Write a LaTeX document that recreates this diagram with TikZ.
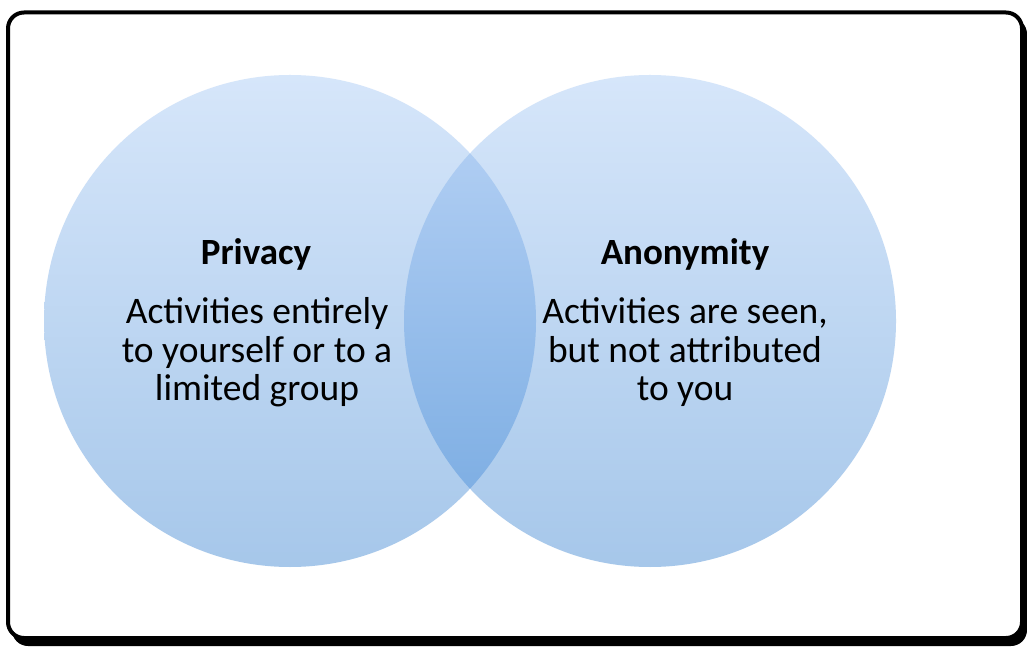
\documentclass[tikz,border=0pt]{standalone}
\usepackage{fontspec}
\setmainfont{Carlito}
\definecolor{ctop}{RGB}{214,230,250}
\definecolor{cbot}{RGB}{166,199,234}
\definecolor{ltop}{RGB}{186,212,246}
\definecolor{lbot}{RGB}{116,168,224}
\tikzset{
  frame/.style={line width=4pt, rounded corners=16pt},
  venn/.style={top color=ctop, bottom color=cbot},
  lens/.style={top color=ltop, bottom color=lbot},
  title/.style={font=\fontsize{37}{37.5}\selectfont\bfseries, anchor=base, inner sep=0pt},
  body/.style={font=\fontsize{37.5}{38.5}\selectfont, align=center, anchor=base, inner sep=0pt}
}
\begin{document}
\begin{tikzpicture}[x=1pt,y=1pt]
\useasboundingbox (0,0) rectangle (1027,648);
% shadow and frame
\fill[black, rounded corners=16pt] (12,2) rectangle (1027,630);
\draw[frame, fill=white] (8,10) rectangle (1022,635.5);
% circles
\shade[venn] (290,327) circle[radius=246pt];
\shade[venn] (650,327) circle[radius=246pt];
\begin{scope}
  \clip (290,327) circle[radius=246pt];
  \shade[lens] (650,327) circle[radius=246pt];
\end{scope}
% texts
\node[title] (ptitle) at (256,383) {Privacy};
\node[body] (pbody) at (257,247) {Activities entirely\\to yourself or to a\\limited group};
\node[title] (atitle) at (685,383) {Anonymity};
\node[body] (abody) at (685,247) {Activities are seen,\\but not attributed\\to you};
\end{tikzpicture}
\end{document}
